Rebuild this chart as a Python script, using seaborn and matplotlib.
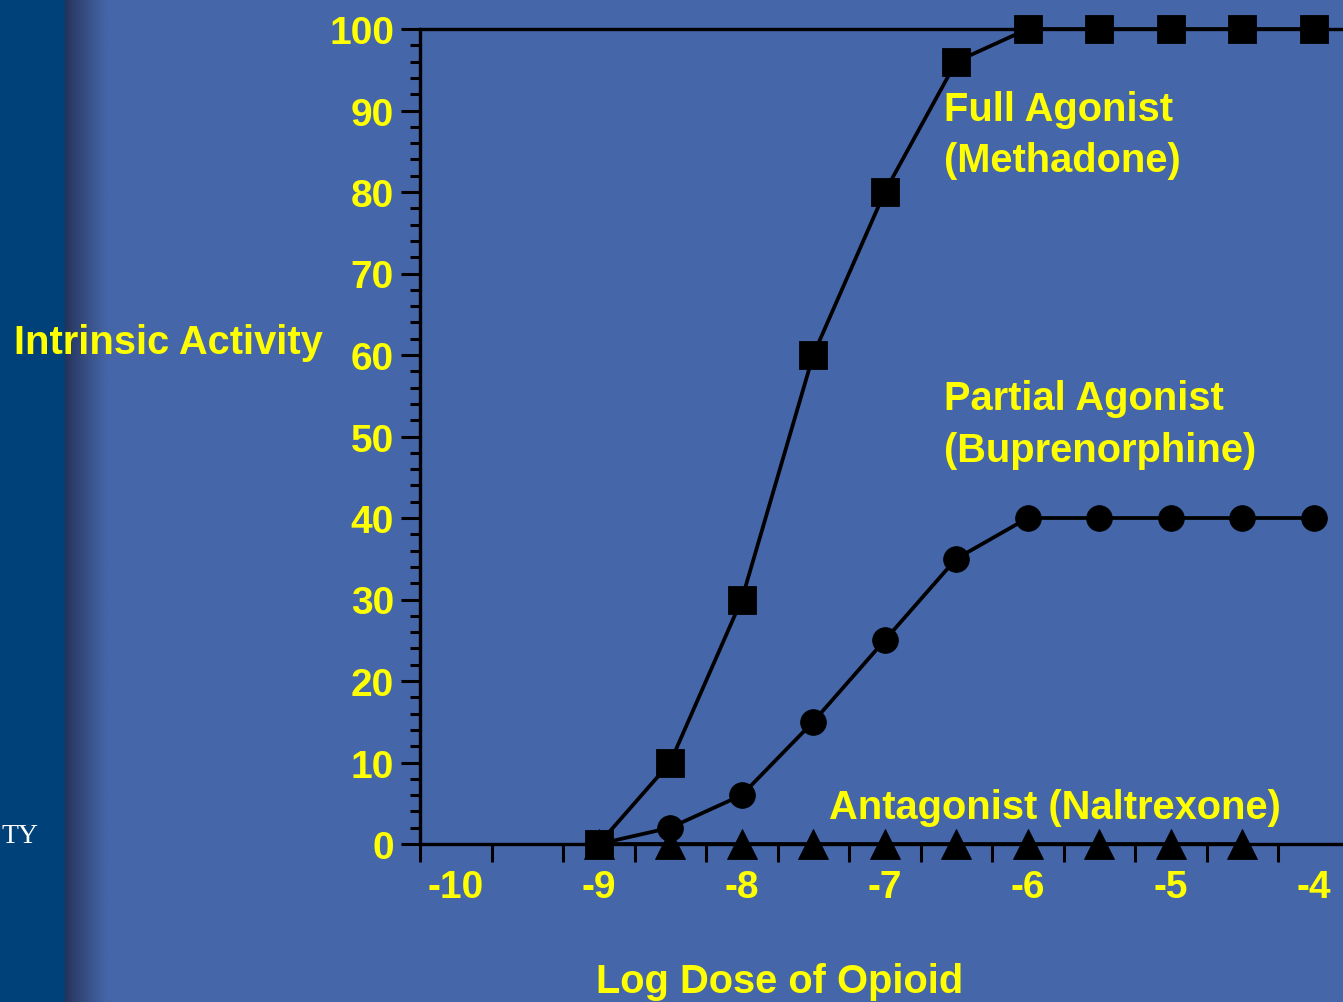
import numpy as np
import pandas as pd
import matplotlib
matplotlib.use("Agg")
import matplotlib.pyplot as plt
from matplotlib.patches import Rectangle
import seaborn as sns

# Dose-response data (log molar dose vs. intrinsic activity, %)
log_dose = [-9, -8.5, -8, -7.5, -7, -6.5, -6, -5.5, -5, -4.5, -4]
full_agonist = [0, 10, 30, 60, 80, 96, 100, 100, 100, 100, 100]
partial_agonist = [0, 2, 6, 15, 25, 35, 40, 40, 40, 40, 40]
antagonist_dose = [-9, -8.5, -8, -7.5, -7, -6.5, -6, -5.5, -5, -4.5]
antagonist = [0, 0, 0, 0, 0, 0, 0, 0, 0, 0]

x_tick_values = [-10, -9, -8, -7, -6, -5, -4]
y_tick_values = [0, 10, 20, 30, 40, 50, 60, 70, 80, 90, 100]

full_label = ["Full Agonist", "(Methadone)"]
partial_label = ["Partial Agonist", "(Buprenorphine)"]
antagonist_label = "Antagonist (Naltrexone)"
y_title = "Intrinsic Activity"
x_title = "Log Dose of Opioid"

sns.set_style("ticks")
plt.rcParams["font.family"] = ["Liberation Sans", "DejaVu Sans"]
plt.rcParams["font.weight"] = "bold"

W, H = 1343, 1003
BG = "#4566a8"
STRIP = "#00417a"
YELLOW = "#ffff00"

fig = plt.figure(figsize=(W / 100, H / 100), dpi=100, facecolor=BG)


def fx(px):
    return px / W


def fy(py):
    return 1 - py / H


# Left side panel with a soft shadow edge
fig.patches.append(Rectangle((0, 0), fx(65), 1, transform=fig.transFigure,
                             facecolor=STRIP, edgecolor="none", zorder=0))
shade_ax = fig.add_axes([fx(64), 0, fx(44), 1], zorder=0)
shade_ax.set_axis_off()
t = np.linspace(0, 1, 200)
dark = np.array([0x24, 0x31, 0x58]) / 255
base = np.array([0x45, 0x66, 0xa8]) / 255
ramp = np.clip(t / 0.95, 0, 1) ** 0.9
grad = dark[None, :] * (1 - ramp[:, None]) + base[None, :] * ramp[:, None]
shade_ax.imshow(grad[None, :, :], aspect="auto", extent=(0, 1, 0, 1))
fig.text(fx(2), fy(843), "TY", color="white", fontsize=20,
         family=["Liberation Serif", "DejaVu Serif"], weight="normal",
         ha="left", va="baseline")

# Main plot area
unit = 143.0
x0 = -10.25
ax = fig.add_axes([fx(420), 158 / H, (W - 420) / W, 815 / H], zorder=2)
ax.patch.set_alpha(0)

df_full = pd.DataFrame({"dose": log_dose, "activity": full_agonist})
df_part = pd.DataFrame({"dose": log_dose, "activity": partial_agonist})
df_ant = pd.DataFrame({"dose": antagonist_dose, "activity": antagonist})

common = dict(x="dose", y="activity", color="black", linewidth=2.7,
              mec="black", mew=0.6, clip_on=False, legend=False, ax=ax,
              estimator=None, zorder=4)
sns.lineplot(data=df_ant, marker="^", markersize=21, **common)
sns.lineplot(data=df_part, marker="o", markersize=18.5, **common)
sns.lineplot(data=df_full, marker="s", markersize=19.5, **common)

ax.set_xlim(x0, x0 + (W - 420) / unit)
ax.set_ylim(0, 100)
ax.set_xlabel("")
ax.set_ylabel("")

ax.set_xticks(x_tick_values)
ax.set_xticklabels([str(v) for v in x_tick_values])
ax.set_xticks(np.arange(-10.25, -4.0, 0.5), minor=True)
ax.set_yticks(y_tick_values)
ax.set_yticklabels([str(v) for v in y_tick_values])
ax.set_yticks(np.arange(0, 101, 2), minor=True)

ax.tick_params(axis="x", which="major", length=0, pad=18, labelsize=28,
               labelcolor=YELLOW)
ax.tick_params(axis="x", which="minor", length=13, width=2.2, color="black")
ax.tick_params(axis="y", which="major", length=13.7, width=2.2, pad=5,
               labelsize=28, labelcolor=YELLOW, color="black")
ax.tick_params(axis="y", which="minor", length=7, width=2.2, color="black")
for lab in ax.get_xticklabels() + ax.get_yticklabels():
    lab.set_fontweight("bold")

for side in ("left", "bottom", "top"):
    ax.spines[side].set_color("black")
    ax.spines[side].set_linewidth(2.4)
ax.spines["right"].set_visible(False)

text_kw = dict(color=YELLOW, fontsize=28.7, fontweight="bold", ha="left",
               va="baseline")
fig.text(fx(14), fy(354), y_title, **text_kw)
fig.text(fx(596), fy(993), x_title, **text_kw)
fig.text(fx(944), fy(121), full_label[0], **text_kw)
fig.text(fx(944), fy(172), full_label[1], **text_kw)
fig.text(fx(944), fy(410), partial_label[0], **text_kw)
fig.text(fx(944), fy(462), partial_label[1], **text_kw)
fig.text(fx(829), fy(819), antagonist_label, **text_kw)

fig.savefig("out.png", dpi=100, facecolor=BG)
